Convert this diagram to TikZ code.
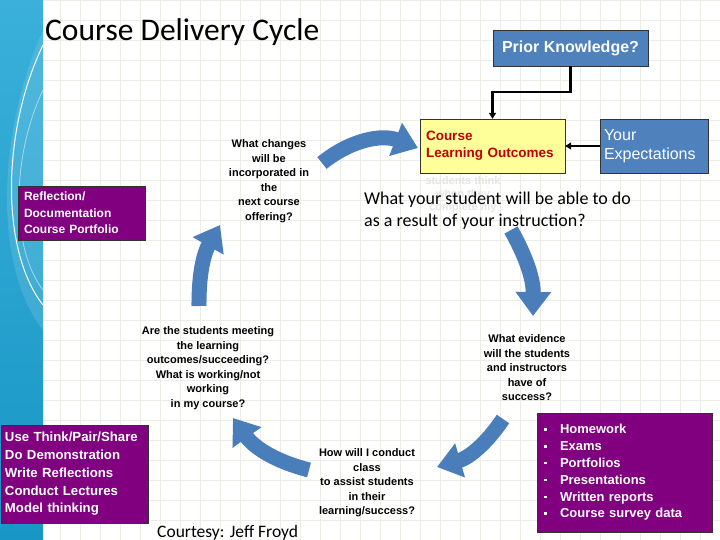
\documentclass[tikz,border=0pt]{standalone}
\usepackage{fontspec}
\setmainfont{Liberation Sans}
\newfontfamily\calibri{Carlito}
\usetikzlibrary{arrows.meta}
\definecolor{box-blue}{HTML}{4F81BD}
\definecolor{arrow-blue}{HTML}{4A7EBB}
\definecolor{slide-purple}{HTML}{800080}
\definecolor{clo-yellow}{HTML}{FFFF99}
\definecolor{clo-red}{HTML}{C00000}
\definecolor{band-top}{HTML}{3AB0DA}
\definecolor{band-bottom}{HTML}{1896C5}
\definecolor{grid-line}{HTML}{EDEDE6}
\newcommand{\sqbullet}{\makebox[16pt][l]{\rule[3pt]{2.5pt}{2.5pt}}}

\begin{document}
\begin{tikzpicture}[x=1pt, y=-1pt,
        bluebox/.style={draw=black!80, fill=box-blue, text=white, inner sep=0pt},
        purplebox/.style={draw=black!80, fill=slide-purple, text=white, align=left},
        question/.style={font=\fontsize{11}{14.5}\selectfont\bfseries, align=center},
        cyclearrow/.style={line width=15pt, arrow-blue, -{Triangle[width=34pt, length=24pt]}},
        link/.style={line width=2.5pt, -{Triangle[width=7pt, length=6pt]}}]
      \useasboundingbox (0,0) rectangle (720,540);
      \clip (0,0) rectangle (720,540);
      % slide background
      \fill[white] (0,0) rectangle (720,540);
      \draw[grid-line, line width=0.6pt] (43,0) grid[step=20pt] (720,540);
      \shade[top color=band-top, bottom color=band-bottom] (0,0) rectangle (43,540);
      \fill[white, opacity=0.12] (43,30) .. controls (-5,140) and (-5,270) .. (43,330) -- cycle;
      \draw[white, line width=1pt] (43,45) .. controls (2,130) and (0,250) .. (43,305);
      \draw[white, opacity=0.5, line width=0.8pt] (43,90) .. controls (10,160) and (12,250) .. (43,290);
      \node[anchor=base west, inner sep=0pt, font=\calibri\fontsize{31.5}{36}\selectfont] (title) at (45,41) {Course Delivery Cycle};

      % boxes
      \node[bluebox, minimum width=155pt, minimum height=36pt,
            font=\fontsize{16}{19}\selectfont\bfseries] (prior) at (570.5,48) {Prior Knowledge?};
      \node[draw=black!80, fill=clo-yellow, text=clo-red, minimum width=145pt, minimum height=54pt,
            text width=133pt, inner xsep=6pt, inner ysep=0pt, align=left,
            font=\fontsize{13.5}{17}\selectfont\bfseries] (clo) at (492.5,146) {Course\\Learning Outcomes};
      \node[bluebox, minimum width=108pt, minimum height=54pt, text width=100pt, inner xsep=4pt,
            align=left, font=\fontsize{16}{19}\selectfont] (yourexp) at (654,146) {Your\\Expectations};
      \node[purplebox, minimum height=54pt, text width=115pt, inner xsep=6pt, inner ysep=0pt,
            font=\fontsize{12}{16.5}\selectfont\bfseries] (reflect) at (81.5,213) {Reflection/\\Documentation\\Course Portfolio};
      \node[purplebox, minimum height=98pt, text width=139pt, inner xsep=4pt, inner ysep=0pt,
            font=\fontsize{13.2}{17.8}\selectfont\bfseries] (methods) at (74.5,474) {Use Think/Pair/Share\\Do Demonstration\\Write Reflections\\Conduct Lectures\\Model thinking};
      \node[purplebox, minimum height=119pt, text width=161pt, inner xsep=7pt, inner ysep=0pt,
            font=\fontsize{13}{16.8}\selectfont\bfseries] (evidbox) at (624.5,472.5)
            {\sqbullet Homework\\\sqbullet Exams\\\sqbullet Portfolios\\\sqbullet Presentations\\\sqbullet Written reports\\\sqbullet Course survey data};

      \draw[link] (prior.south) -- ++(0,26) -| (clo.north);
      \draw[link] (yourexp.west) -- (clo.east);

      % questions round the cycle
      \node[question] (changes) at (269,181) {What changes\\will be\\incorporated in\\the\\next course\\offering?};
      \node[question, text=black!10, font=\fontsize{11}{13}\selectfont\bfseries] (ghost) at (463,195) {students think\\when they\\complete my};
      \node[anchor=west, inner sep=0pt, align=left, font=\calibri\fontsize{18}{22}\selectfont] (able) at (364,211)
            {What your student will be able to do\\as a result of your instruction?};
      \node[question] (meeting) at (208,368) {Are the students meeting\\the learning\\outcomes/succeeding?\\What is working/not\\working\\in my course?};
      \node[question] (evidence) at (527,368) {What evidence\\will the students\\and instructors\\have of\\success?};
      \node[question] (conduct) at (367,483) {How will I conduct\\class\\to assist students\\in their\\learning/success?};
      \node[anchor=base west, inner sep=0pt, font=\calibri\fontsize{17.5}{21}\selectfont] (courtesy) at (157,537) {Courtesy: Jeff Froyd};

      % block arrows
      \coordinate (a1s) at (322,163);
      \coordinate (a1e) at (418,148);
      \coordinate (a2s) at (511,230);
      \coordinate (a2e) at (533,316);
      \coordinate (a3s) at (503,419);
      \coordinate (a3e) at (437,467);
      \coordinate (a4s) at (309,470);
      \coordinate (a4e) at (233,418);
      \coordinate (a5s) at (199,306);
      \coordinate (a5e) at (220,225);
      \draw[cyclearrow] (a1s) to[bend left=30] (a1e);
      \draw[cyclearrow] (a2s) to[bend left=15] (a2e);
      \draw[cyclearrow] (a3s) to[bend left=20] (a3e);
      \draw[cyclearrow] (a4s) to[bend left=20] (a4e);
      \draw[cyclearrow] (a5s) to[bend left=15] (a5e);
    \end{tikzpicture}
\end{document}
